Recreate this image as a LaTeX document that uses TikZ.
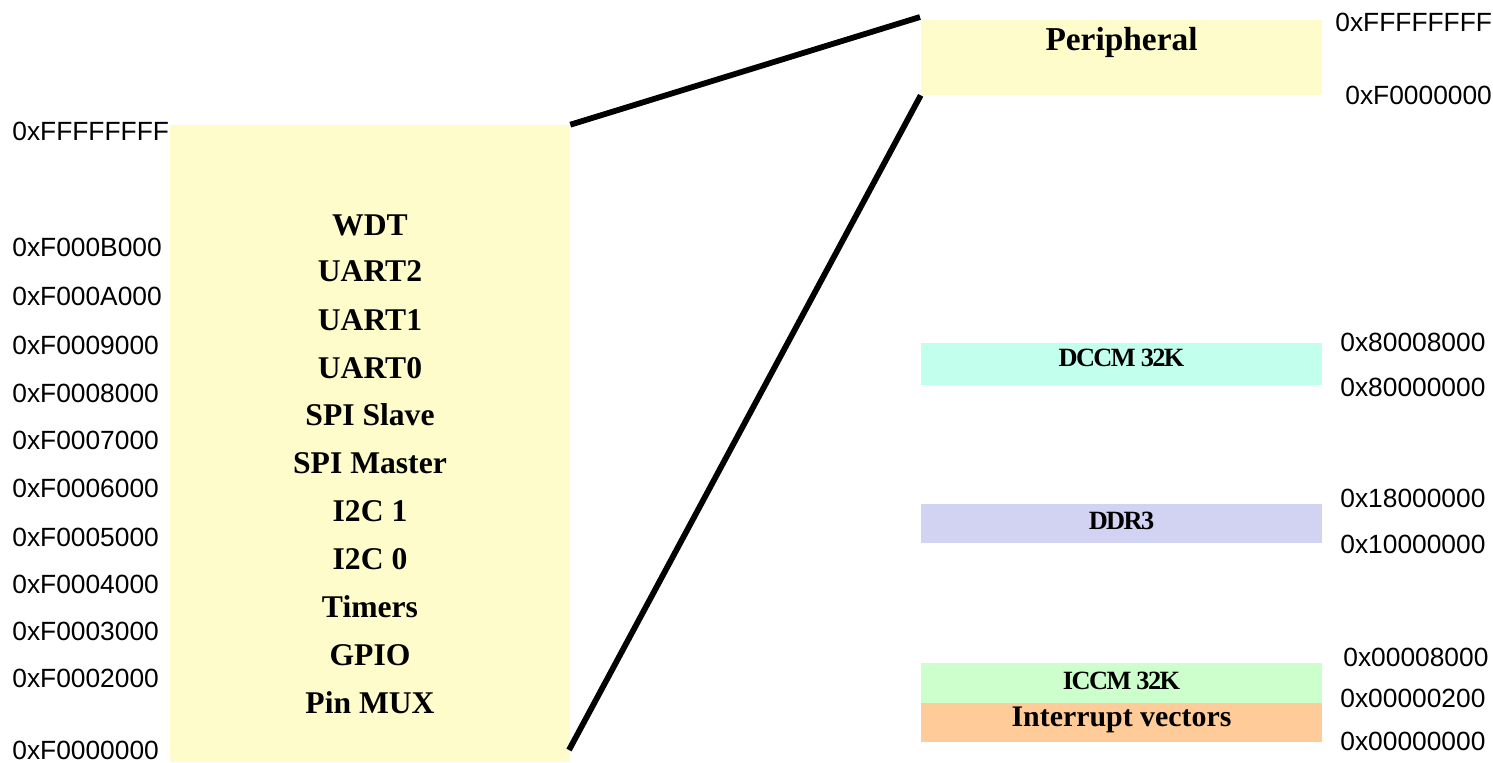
\documentclass[tikz,border=0pt]{standalone}
\usepackage{fontspec}
\setmainfont{Liberation Serif}
\newfontfamily\hexfont{Liberation Sans}
\newfontfamily\tightfont[LetterSpace=-6]{Liberation Serif}
\usepackage{tikz}
\usetikzlibrary{positioning, calc}

\begin{document}
\begin{tikzpicture}[
    x=0.02cm, y=-0.02cm,
    region/.style={rectangle, draw=none, inner sep=0pt, minimum width=8.02cm},
    blocktxt/.style={font=\bfseries\fontsize{18}{20}\selectfont, inner sep=0pt},
    smalltxt/.style={font=\tightfont\bfseries\fontsize{15}{17}\selectfont, inner sep=0pt},
    addr/.style={font=\hexfont\fontsize{15}{17}\selectfont, anchor=west, inner sep=0pt},
    link/.style={line width=3.3pt, line cap=butt}
]
    \useasboundingbox (0,0) rectangle (1493,762);

    % Peripheral space, expanded
    \node[region, fill=yellow!20, minimum width=8cm, minimum height=12.74cm] (lbox) at (370, 443.5) {};
    \node[blocktxt] (wdt)    at (370, 225) {WDT};
    \node[blocktxt] (uart2)  at (370, 271) {UART2};
    \node[blocktxt] (uart1)  at (370, 320) {UART1};
    \node[blocktxt] (uart0)  at (370, 368) {UART0};
    \node[blocktxt] (spis)   at (370, 415) {SPI Slave};
    \node[blocktxt] (spim)   at (370, 463) {SPI Master};
    \node[blocktxt] (i2c1)   at (370, 511) {I2C 1};
    \node[blocktxt] (i2c0)   at (370, 559) {I2C 0};
    \node[blocktxt] (timers) at (370, 607) {Timers};
    \node[blocktxt] (gpio)   at (370, 655) {GPIO};
    \node[blocktxt] (pinmux) at (370, 703) {Pin MUX};

    % Addresses of the peripherals
    \node[addr] (la0)  at (12, 131) {0xFFFFFFFF};
    \node[addr] (la1)  at (12, 247) {0xF000B000};
    \node[addr] (la2)  at (12, 296) {0xF000A000};
    \node[addr] (la3)  at (12, 345) {0xF0009000};
    \node[addr] (la4)  at (12, 393) {0xF0008000};
    \node[addr] (la5)  at (12, 440) {0xF0007000};
    \node[addr] (la6)  at (12, 488) {0xF0006000};
    \node[addr] (la7)  at (12, 537) {0xF0005000};
    \node[addr] (la8)  at (12, 584) {0xF0004000};
    \node[addr] (la9)  at (12, 631) {0xF0003000};
    \node[addr] (la10) at (12, 678) {0xF0002000};
    \node[addr] (la11) at (12, 750) {0xF0000000};

    % Whole memory map
    \node[region, fill=yellow!20, minimum height=1.5cm] (periph) at (1121.5, 57.5) {};
    \node[blocktxt, font=\bfseries\fontsize{19}{21}\selectfont] (periphtxt) at (1121.5, 42) {Peripheral};
    \node[region, fill={rgb,255:red,194;green,255;blue,236}, minimum height=0.84cm] (dccm) at (1121.5, 364) {};
    \node[smalltxt] (dccmtxt) at (1121.5, 358) {DCCM 32K};
    \node[region, fill={rgb,255:red,210;green,210;blue,242}, minimum height=0.78cm] (ddr) at (1121.5, 523.5) {};
    \node[smalltxt] (ddrtxt) at (1121.5, 521) {DDR3};
    \node[region, fill={rgb,255:red,204;green,255;blue,204}, minimum height=0.8cm] (iccm) at (1121.5, 683) {};
    \node[smalltxt] (iccmtxt) at (1121.5, 681) {ICCM 32K};
    \node[region, fill={rgb,255:red,255;green,204;blue,153}, minimum height=0.78cm] (ivec) at (1121.5, 722.5) {};
    \node[blocktxt, font=\bfseries\fontsize{17}{19}\selectfont] (ivectxt) at (1121.5, 720) {Interrupt vectors};

    % Addresses of the regions
    \node[addr] (ra0) at (1335, 22)  {0xFFFFFFFF};
    \node[addr] (ra1) at (1345, 95)  {0xF0000000};
    \node[addr] (ra2) at (1340, 342) {0x80008000};
    \node[addr] (ra3) at (1340, 387) {0x80000000};
    \node[addr] (ra4) at (1340, 498) {0x18000000};
    \node[addr] (ra5) at (1340, 544) {0x10000000};
    \node[addr] (ra6) at (1343, 657) {0x00008000};
    \node[addr] (ra7) at (1340, 698) {0x00000200};
    \node[addr] (ra8) at (1340, 741) {0x00000000};

    % Zoom lines
    \coordinate (topend) at (920, 17);
    \coordinate (lowend) at (569, 750);
    \draw[link] (lbox.north east) -- (topend);
    \draw[link] (lowend) -- (periph.south west);

\end{tikzpicture}
\end{document}
